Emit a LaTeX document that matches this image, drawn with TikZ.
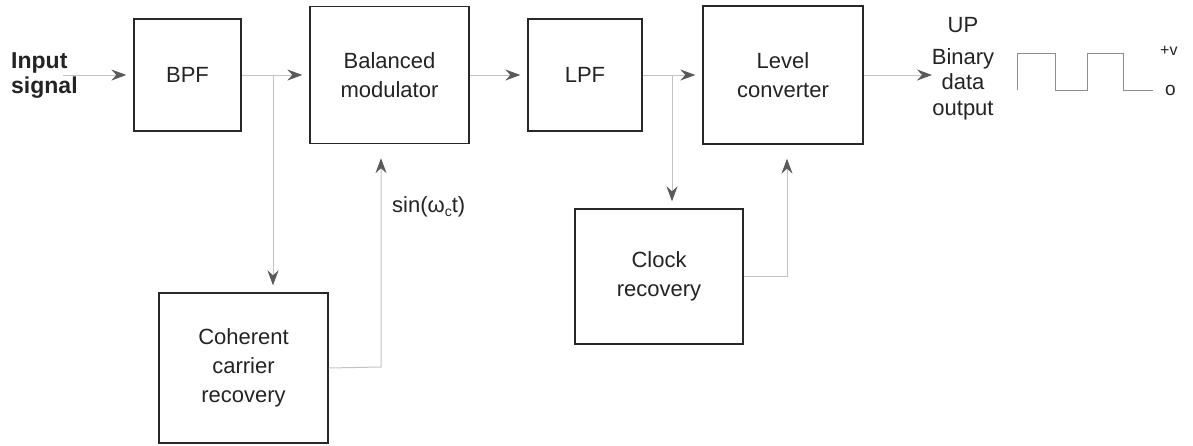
\documentclass[tikz,border=0pt]{standalone}
\usepackage{fontspec}
\setmainfont{Liberation Sans}
\usetikzlibrary{arrows.meta}
\definecolor{boxline}{RGB}{40,40,40}
\definecolor{wireline}{RGB}{195,195,195}
\definecolor{tipcol}{RGB}{90,90,90}
\definecolor{txt}{RGB}{35,35,35}
\begin{document}
\begin{tikzpicture}[x=1pt,y=-1pt,
  blk/.style={draw=boxline,line width=1.3pt,align=center,inner sep=0pt,
    font=\fontsize{22}{29}\selectfont,text=txt},
  wire/.style={draw=wireline,line width=1pt},
  arr/.style={wire,-{Stealth[length=15pt,width=11pt,inset=5pt,color=tipcol]},shorten >=7pt},
  lbl/.style={align=center,inner sep=0pt,font=\fontsize{22}{25.5}\selectfont,text=txt}]
\useasboundingbox (0,0) rectangle (1193,445);
% blocks
\node[blk,minimum width=107pt,minimum height=112pt] (bpf) at (187.5,75) {BPF};
\node[blk,minimum width=159pt,minimum height=137pt] (bal) at (389.5,75) {Balanced\\modulator};
\node[blk,minimum width=114pt,minimum height=112pt] (lpf) at (585,75) {LPF};
\node[blk,minimum width=160pt,minimum height=138pt] (lvl) at (783,75) {Level\\converter};
\node[blk,minimum width=169pt,minimum height=150pt] (coh) at (243.5,368) {Coherent\\carrier\\recovery};
\node[blk,minimum width=168pt,minimum height=135pt] (clk) at (659,276.5) {Clock\\recovery};
% labels
\node[align=left,inner sep=0pt,anchor=west,font=\fontsize{23}{25}\selectfont\bfseries,text=txt] (inp) at (11,76) {Input\\signal};
\node[lbl] (up) at (963,25) {UP};
\node[lbl] (out) at (963,84) {Binary\\data\\output};
\node[lbl,anchor=west] (sinl) at (392,207) {sin(ω\raisebox{-4pt}{\fontsize{14}{14}\selectfont c}t)};
\node[lbl,anchor=west,font=\fontsize{16}{18}\selectfont] (pv) at (1160,51) {+v};
\node[lbl,anchor=west,font=\fontsize{19}{20}\selectfont] (zero) at (1165,90) {o};
% coordinates
\coordinate (inA) at (63,75);
\coordinate (b1) at (273,75);
\coordinate (c1) at (381,367);
\coordinate (l1) at (672,75);
\coordinate (k1) at (787,276.5);
\coordinate (oT) at (932,75);
% connectors
\draw[arr] (inA) -- (bpf.west);
\draw[arr] (bpf.east) -- (bal.west);
\draw[arr] (b1) -- (b1 |- coh.north);
\draw[arr,shorten >=14pt] (coh.east) -- (c1) -- (c1 |- bal.south);
\draw[arr] (bal.east) -- (lpf.west);
\draw[arr] (lpf.east) -- (lvl.west);
\draw[arr] (l1) -- (l1 |- clk.north);
\draw[arr,shorten >=14pt] (clk.east) -- (k1) -- (k1 |- lvl.south);
\draw[arr,shorten >=0pt] (lvl.east) -- (oT);
% square wave
\draw[draw=black!45,line width=1pt] (1017,90) -- (1017,53) -- (1055,53) -- (1055,90) -- (1087,90) -- (1087,53) -- (1123,53) -- (1123,90) -- (1153,90);
\end{tikzpicture}
\end{document}
